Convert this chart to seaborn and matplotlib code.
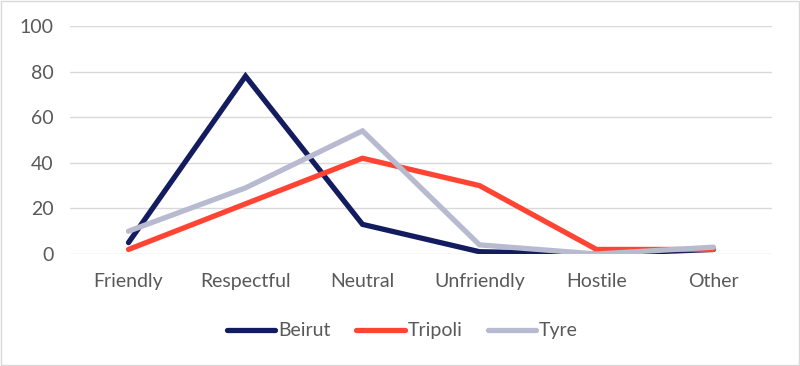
import matplotlib
matplotlib.use('Agg')
import matplotlib.pyplot as plt
import pandas as pd
import seaborn as sns

# ── Data ───────────────────────────────────────────────────────────────────
categories = ['Friendly', 'Respectful', 'Neutral', 'Unfriendly', 'Hostile', 'Other']
beirut = [5, 78, 13, 1, 0, 2]
tripoli = [2, 22, 42, 30, 2, 2]
tyre = [10, 29, 54, 4, 0, 3]
cities = ['Beirut', 'Tripoli', 'Tyre']
colors = ['#131C5E', '#FF4433', '#B8BBD0']

df = pd.DataFrame({
    'category': categories * 3,
    'value': beirut + tripoli + tyre,
    'city': [c for c in cities for _ in categories],
})

sns.set_style("white")
plt.rcParams['font.family'] = ['Lato', 'DejaVu Sans']
text_col = '#595959'
fs = 14

fig = plt.figure(figsize=(8, 3.66), dpi=100)
ax = fig.add_axes([0.0875, 0.306, 0.8775, 0.623])

sns.lineplot(data=df, x='category', y='value', hue='city', palette=colors,
             sort=False, linewidth=3.8, ax=ax, legend=True)
for ln in ax.lines:
    ln.set_solid_capstyle('round')
    ln.set_solid_joinstyle('miter')

ax.set_xlim(-0.5, len(categories) - 0.5)
ax.set_ylim(0, 100)
ax.set_yticks(range(0, 101, 20))
ax.yaxis.grid(True, color='#D9D9D9', linewidth=1)
ax.set_axisbelow(True)
for s in ax.spines.values():
    s.set_visible(False)
ax.set_xlabel('')
ax.set_ylabel('')
ax.tick_params(axis='both', length=0, labelsize=fs, colors=text_col)
ax.tick_params(axis='x', pad=14)
ax.tick_params(axis='y', pad=12)

leg = ax.legend(loc='center', bbox_to_anchor=(0.503, 0.096), bbox_transform=fig.transFigure,
                ncol=3, frameon=False, fontsize=fs, handlelength=2.5,
                handletextpad=0.15, columnspacing=1.3)
for t in leg.get_texts():
    t.set_color(text_col)
for h in leg.get_lines():
    h.set_linewidth(3.8)
    h.set_solid_capstyle('round')

# light frame around the whole chart
fig.patches.append(plt.Rectangle((0.001, 0.002), 0.998, 0.996, transform=fig.transFigure,
                                 fill=False, edgecolor='#D9D9D9', linewidth=1))

fig.savefig('out.png', dpi=100)
